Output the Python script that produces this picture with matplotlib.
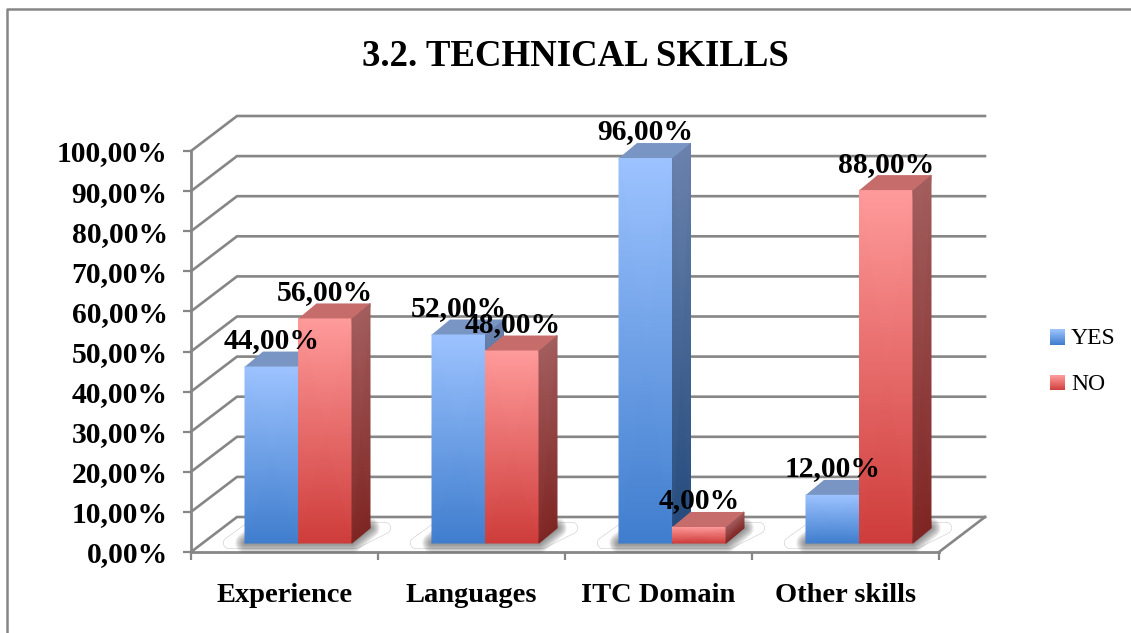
from matplotlib import pyplot as plt
from matplotlib.colors import LinearSegmentedColormap
from matplotlib.lines import Line2D
from matplotlib.patches import Polygon, Rectangle
from matplotlib.ticker import FixedLocator, NullFormatter
import numpy as np

# Chart values
categories = ["Experience", "Languages", "ITC Domain", "Other skills"]
yes_values = [44, 52, 96, 12]
no_values = [56, 48, 4, 88]
y_ticks = [0, 10, 20, 30, 40, 50, 60, 70, 80, 90, 100]
series_names = ["YES", "NO"]
title_text = "3.2. TECHNICAL SKILLS"

W, H = 1131, 633
plt.rcParams["font.family"] = ["Liberation Serif", "DejaVu Serif"]

# Plot area in pixels (front plane of the fake 3D box)
LEFT, RIGHT, BOTTOM, TOP = 191, 939, 552, 151
PX_X = 4 / (RIGHT - LEFT)
PX_Y = 100 / (BOTTOM - TOP)

# Depth offsets, converted from pixels to data units
WALL_DX, WALL_DY = 46 * PX_X, 35 * PX_Y
BAR_DX, BAR_DY = 18 * PX_X, 15 * PX_Y
BAR_GAP = 54 * PX_X
BAR_W = 53.5 * PX_X
BAR_BASE = 9 * PX_Y

GRID = "#868686"
BLUE = dict(front=("#3f7dcd", "#9dc3ff"), side=("#234a7c", "#6a82ad"), top="#7895c3")
RED = dict(front=("#cd3c3a", "#ff9b9b"), side=("#7f2624", "#a35e5e"), top="#c66c6b")

fig = plt.figure(figsize=(W / 100, H / 100), dpi=100)
ax = fig.add_axes([LEFT / W, 1 - BOTTOM / H, (RIGHT - LEFT) / W, (BOTTOM - TOP) / H])
ax.set_xlim(0, 4)
ax.set_ylim(0, 100)
ax.autoscale(False)


def grad(xs, ys, colors):
    # two-colour vertical gradient on a (maybe skewed) quad, row 0 = bottom
    cmap = LinearSegmentedColormap.from_list("g", colors)
    c = np.array([[0.0, 0.0], [1.0, 1.0]])
    return ax.pcolormesh(xs, ys, c, cmap=cmap, shading="gouraud", clip_on=False, zorder=5, vmin=0, vmax=1)


def draw_bar(x, value, style):
    y0, y1 = BAR_BASE, BAR_BASE + value
    grad(np.array([[x, x + BAR_W], [x, x + BAR_W]]), np.array([[y0, y0], [y1, y1]]), style["front"])
    xr = x + BAR_W
    grad(np.array([[xr, xr + BAR_DX], [xr, xr + BAR_DX]]),
         np.array([[y0, y0 + BAR_DY], [y1, y1 + BAR_DY]]), style["side"])
    ax.add_patch(Polygon([(x, y1), (xr, y1), (xr + BAR_DX, y1 + BAR_DY), (x + BAR_DX, y1 + BAR_DY)],
                         closed=True, facecolor=style["top"], edgecolor="none", clip_on=False, zorder=5))


# Back wall, side wall and floor
for v in y_ticks:
    ax.plot([0, WALL_DX, 4 + WALL_DX], [v, v + WALL_DY, v + WALL_DY], color=GRID, lw=1.9,
            clip_on=False, zorder=1, solid_joinstyle="miter")
ax.plot([4, 4 + WALL_DX], [0, WALL_DY], color=GRID, lw=1.9, clip_on=False, zorder=1)

# Plates and soft shadows below each pair of bars
for i in range(len(categories)):
    xl = i + BAR_GAP
    xr = xl + 2 * BAR_W
    y0 = BAR_BASE
    plate = [(xl - 16 * PX_X, y0), (xr + 3 * PX_X, y0), (xr + 33 * PX_X, y0 + BAR_DY), (xl + 5 * PX_X, y0 + BAR_DY)]
    ax.add_patch(Polygon(plate, closed=True, facecolor="white", edgecolor="#cccccc", lw=8.6, joinstyle="round",
                         clip_on=False, zorder=2))
    ax.add_patch(Polygon(plate, closed=True, facecolor="white", edgecolor="white", lw=7.8, joinstyle="round",
                         clip_on=False, zorder=2))
    foot = [(xl, y0), (xr, y0), (xr + BAR_DX, y0 + BAR_DY), (xl + BAR_DX, y0 + BAR_DY)]
    for lw in np.arange(14, 0, -2):
        ax.add_patch(Polygon(foot, closed=True, facecolor="#444444", edgecolor="#444444", alpha=0.11, lw=lw,
                             joinstyle="round", clip_on=False, zorder=3))

# Bars and their labels
for i in range(len(categories)):
    x_yes = i + BAR_GAP
    x_no = x_yes + BAR_W
    draw_bar(x_yes, yes_values[i], BLUE)
    draw_bar(x_no, no_values[i], RED)
for i in range(len(categories)):
    x_yes = i + BAR_GAP
    x_no = x_yes + BAR_W
    for x, v in ((x_yes, yes_values[i]), (x_no, no_values[i])):
        ax.text(x + BAR_W / 2, BAR_BASE + v + 26 * PX_Y, f"{v:.2f}%".replace(".", ","), ha="center", va="center",
                fontsize=21.3, fontweight="bold", color="black", zorder=8, clip_on=False)

# Axes, ticks
for name in ("top", "right"):
    ax.spines[name].set_visible(False)
for name in ("left", "bottom"):
    ax.spines[name].set_color(GRID)
    ax.spines[name].set_linewidth(2)
ax.set_yticks(y_ticks)
ax.set_yticklabels([f"{v:.2f}%".replace(".", ",") for v in y_ticks], fontsize=21.3, fontweight="bold")
ax.tick_params(axis="y", length=5.8, width=1.6, color=GRID, pad=11)
ax.set_xticks(range(5))
ax.xaxis.set_major_formatter(NullFormatter())
ax.xaxis.set_minor_locator(FixedLocator([i + 0.5 for i in range(4)]))
ax.set_xticklabels(categories, minor=True, fontsize=20.5, fontweight="bold")
ax.tick_params(axis="x", which="major", length=6, width=1.6, color=GRID)
ax.tick_params(axis="x", which="minor", length=0, pad=22.5)

fig.text(575 / W, 1 - 57 / H, title_text, ha="center", va="center", fontsize=26.5, fontweight="bold")


# Legend with small gradient swatches
class GradHandler:
    def __init__(self, style):
        self.style = style

    def legend_artist(self, legend, orig_handle, fontsize, handlebox):
        cmap = LinearSegmentedColormap.from_list("l", self.style["front"])
        n = 16
        x0, y0 = handlebox.xdescent, handlebox.ydescent
        w, h = handlebox.width, handlebox.height
        r = None
        for k in range(n):
            r = Rectangle((x0, y0 + h * k / n), w, h / n + 0.2, facecolor=cmap(k / (n - 1)), edgecolor="none",
                          transform=handlebox.get_transform())
            handlebox.add_artist(r)
        return r


h_yes = Rectangle((0, 0), 1, 1)
h_no = Rectangle((0, 0), 1, 1)
fig.legend([h_yes, h_no], series_names, handler_map={h_yes: GradHandler(BLUE), h_no: GradHandler(RED)},
           loc="upper left", bbox_to_anchor=(1050 / W, 1 - 328 / H), frameon=False, prop={"size": 17},
           handlelength=0.64, handleheight=0.64, handletextpad=0.25, labelspacing=1.05, borderpad=0, borderaxespad=0)

# Outer chart frame
fig.add_artist(Line2D([7 / W, 7 / W, 1], [0, 1 - 9 / H, 1 - 9 / H], color=GRID, lw=1.8, transform=fig.transFigure))

plt.savefig("out.png", dpi=100)
